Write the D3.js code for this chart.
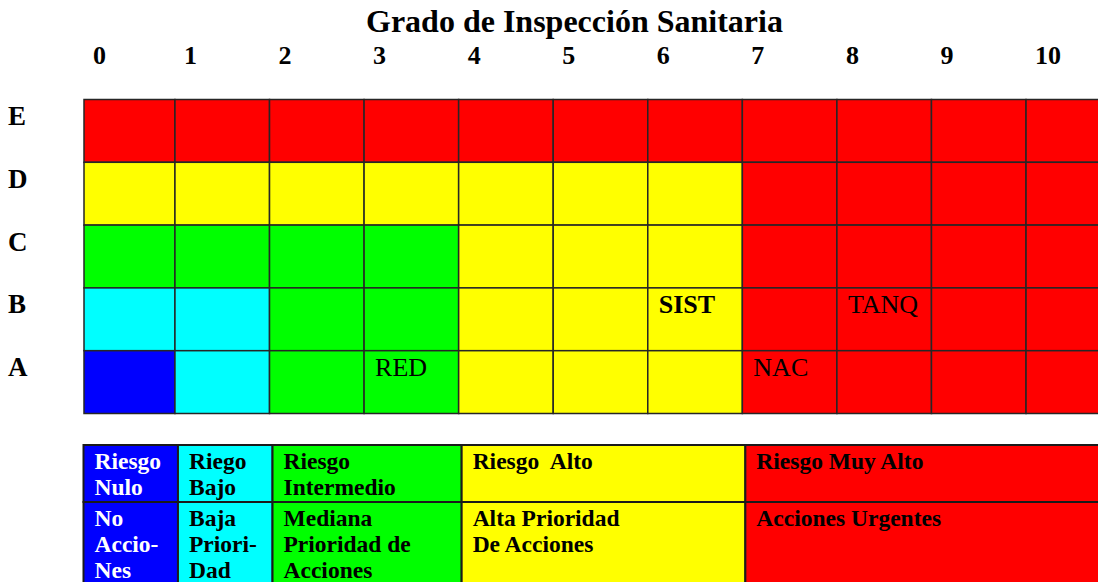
<!DOCTYPE html>
<html>
<head>
<meta charset="utf-8">
<script src="https://cdn.jsdelivr.net/npm/d3@7"></script>
<style>
  html, body { margin: 0; padding: 0; background: #fff; overflow: hidden; }
  svg { display: block; font-family: "Liberation Serif", "Times New Roman", serif; }
  text { white-space: pre; }
</style>
</head>
<body>
<div id="vis"></div>
<script>
// data
const grades = [0, 1, 2, 3, 4, 5, 6, 7, 8, 9, 10];
const rowLabels = ['E', 'D', 'C', 'B', 'A'];
// risk level of each cell, rows E..A, columns grade 0..10
const riskE = [4, 4, 4, 4, 4, 4, 4, 4, 4, 4, 4];
const riskD = [3, 3, 3, 3, 3, 3, 3, 4, 4, 4, 4];
const riskC = [2, 2, 2, 2, 3, 3, 3, 4, 4, 4, 4];
const riskB = [1, 1, 2, 2, 3, 3, 3, 4, 4, 4, 4];
const riskA = [0, 1, 2, 2, 3, 3, 3, 4, 4, 4, 4];
const riskRows = [riskE, riskD, riskC, riskB, riskA];

// names placed in cells
const cellNames = [
  { text: 'RED',  row: 'A', grade: 3, bold: false },
  { text: 'SIST', row: 'B', grade: 6, bold: true },
  { text: 'TANQ', row: 'B', grade: 8, bold: false },
  { text: 'NAC',  row: 'A', grade: 7, bold: false }
];

// legend: grade range covered by each level, and its texts
const levelFrom   = [0, 1, 2, 4, 7];
const levelTo     = [1, 2, 4, 7, 11];
const levelName   = [['Riesgo', 'Nulo'], ['Riego', 'Bajo'], ['Riesgo', 'Intermedio'], ['Riesgo  Alto'], ['Riesgo Muy Alto']];
const levelAction = [['No', 'Accio-', 'Nes'], ['Baja', 'Priori-', 'Dad'], ['Mediana', 'Prioridad de', 'Acciones'], ['Alta Prioridad', 'De Acciones'], ['Acciones Urgentes']];
const levelColor  = ['#0000ff', '#00ffff', '#00ff00', '#ffff00', '#ff0000'];

const W = 1098, H = 582;
const svg = d3.select('#vis').append('svg').attr('width', W).attr('height', H);

// columns: edges of grade i at x(i); the first one starts at gridLeft
const gridLeft = 84;
const x = d3.scaleLinear().domain([0, 11]).range([80.4, 1120.6]);
const colLeft = i => Math.max(gridLeft, x(i));
const y = d3.scaleBand().domain(rowLabels).range([99.5, 413.5]);

// title
svg.append('text')
  .attr('x', 366).attr('y', 32)
  .style('font-size', '32px').style('font-weight', 'bold')
  .text('Grado de Inspección Sanitaria');

// grade labels
svg.append('g').selectAll('text').data(grades).join('text')
  .attr('x', d => colLeft(d) + 9).attr('y', 64)
  .style('font-size', '26px').style('font-weight', 'bold')
  .text(d => d);

// row labels
svg.append('g').selectAll('text').data(rowLabels).join('text')
  .attr('x', 8).attr('y', d => y(d) + 25.5)
  .style('font-size', '27px').style('font-weight', 'bold')
  .text(d => d);

// cells
const cells = [];
riskRows.forEach((r, ri) => r.forEach((lvl, gi) => cells.push({ row: rowLabels[ri], grade: gi, lvl })));

svg.append('g').selectAll('rect').data(cells).join('rect')
  .attr('x', d => colLeft(d.grade))
  .attr('y', d => y(d.row))
  .attr('width', d => x(d.grade + 1) - colLeft(d.grade))
  .attr('height', y.bandwidth())
  .attr('fill', d => levelColor[d.lvl])
  .attr('stroke', '#262626')
  .attr('stroke-width', 1.5);

svg.append('g').selectAll('text').data(cellNames).join('text')
  .attr('x', d => colLeft(d.grade) + 11)
  .attr('y', d => y(d.row) + 25.5)
  .style('font-size', '26px')
  .style('font-weight', d => d.bold ? 'bold' : 'normal')
  .text(d => d.text);

// legend table
const legTop = 445, legSplit = 502, legBottom = 600, legShift = 3;
const leg = svg.append('g');
levelFrom.forEach((f, i) => {
  const x0 = colLeft(f) + (i === 0 ? -0.5 : legShift);
  const x1 = x(levelTo[i]) + legShift;
  [[legTop, legSplit, levelName[i]], [legSplit, legBottom, levelAction[i]]].forEach(([t, b, lines]) => {
    leg.append('rect')
      .attr('x', x0).attr('y', t)
      .attr('width', x1 - x0).attr('height', b - t)
      .attr('fill', levelColor[i])
      .attr('stroke', '#1a1a1a').attr('stroke-width', 2);
    leg.append('g').selectAll('text').data(lines).join('text')
      .attr('x', x0 + 11)
      .attr('y', (d, k) => t + 24 + k * 26)
      .attr('fill', i === 0 ? '#ffffff' : '#000000')
      .style('font-size', '23.5px').style('font-weight', 'bold')
      .text(d => d);
  });
});
</script>
</body>
</html>
